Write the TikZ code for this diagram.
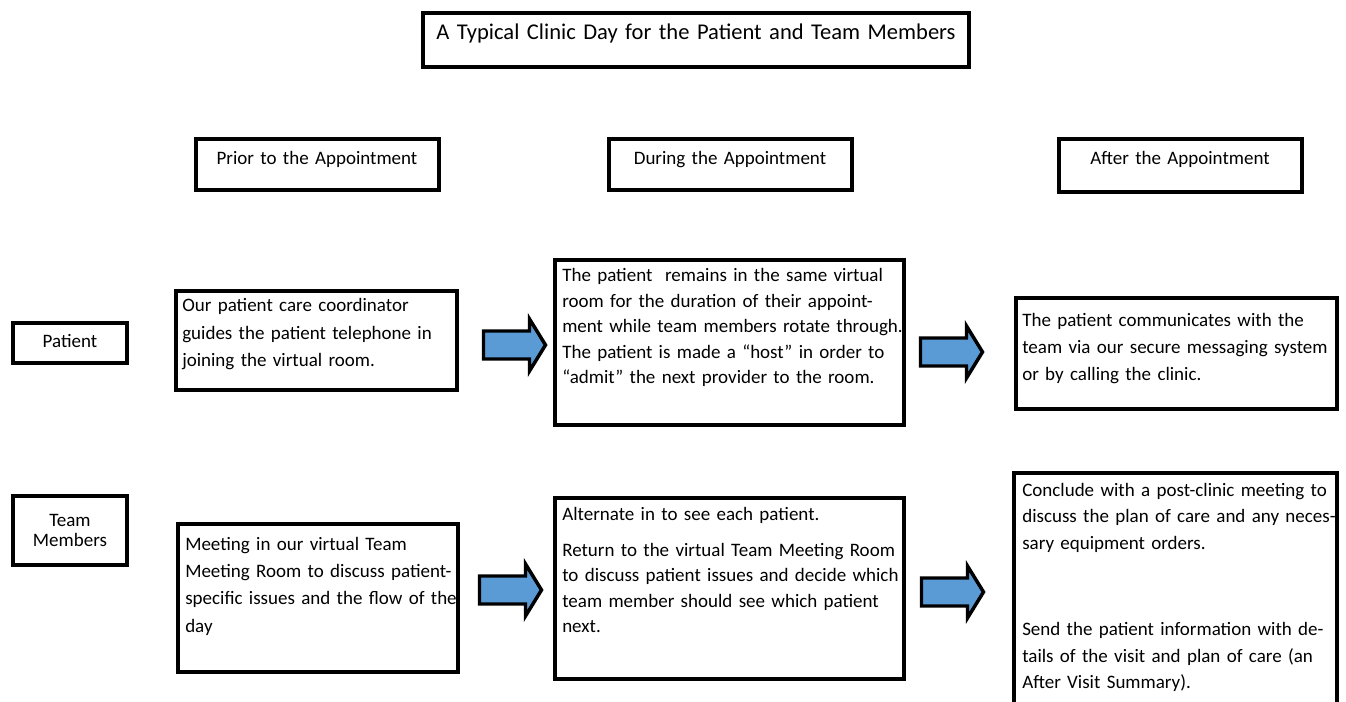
\documentclass[tikz,border=0pt]{standalone}
\usepackage{fontspec}
\setmainfont{Carlito}
\usetikzlibrary{fit}
\definecolor{arrowblue}{HTML}{5B9BD5}
\begin{document}
\begin{tikzpicture}[x=0.75pt,y=-0.75pt,
  box/.style={draw=black, line width=2.6pt, inner sep=0pt, fill=white},
  txt/.style={anchor=base west, inner sep=0pt, align=left, text width=300pt},
  ctr/.style={anchor=base, inner sep=0pt, align=center, text width=200pt, font=\fontsize{14.25}{15.6}\selectfont},
  blockarrow/.pic={\draw[line width=2.6pt, fill=arrowblue, line join=miter, miter limit=10] (0,-14) -- (46,-14) -- (46,-26) -- (62,0) -- (46,26) -- (46,14) -- (0,14) -- cycle;}
]
\useasboundingbox (0,0) rectangle (1346,702);

% title and column headers
\node[box, fit={(423,13) (969,67)}] (title) {};
\node[ctr, text width=420pt, font=\fontsize{16.9}{18}\selectfont] (titletext) at (696,40) {A Typical Clinic Day for the Patient and Team Members};

\node[box, fit={(196,139) (439,190)}] (h1) {};
\node[ctr] (h1text) at (317,165) {Prior to the Appointment};
\node[box, fit={(609,139) (852,190)}] (h2) {};
\node[ctr] (h2text) at (730,165) {During the Appointment};
\node[box, fit={(1059,139) (1302,192)}] (h3) {};
\node[ctr] (h3text) at (1180,165) {After the Appointment};

% row labels
\node[box, fit={(13,323) (127,363)}] (lp) {};
\node[ctr] (lptext) at (70,348) {Patient};
\node[box, fit={(13,496) (127,565)}] (lt) {};
\node[ctr, text width=80pt, font=\fontsize{14.25}{15.6}\selectfont] (lttext) at (70,526) {Team\\Members};

% patient row
\node[box, fit={(176,291) (457,390)}] (p1) {};
\node[txt, font=\fontsize{14.25}{20.6}\selectfont] (p1text) at (182,312) {Our patient care coordinator\\guides the patient telephone in\\joining the virtual room.};

\node[box, fit={(555,260) (904,425)}] (p2) {};
\node[txt, font=\fontsize{14.25}{19.1}\selectfont] (p2text) at (562,282) {The patient\ \ remains in the same virtual\\room for the duration of their appoint-\\ment while team members rotate through.\\The patient is made a “host” in order to\\“admit” the next provider to the room.};

\node[box, fit={(1016,298) (1337,409)}] (p3) {};
\node[txt, font=\fontsize{14.25}{19.9}\selectfont] (p3text) at (1022,327) {The patient communicates with the\\team via our secure messaging system\\or by calling the clinic.};

% team row
\node[box, fit={(178,524) (458,672)}] (t1) {};
\node[txt, font=\fontsize{14.25}{20.6}\selectfont] (t1text) at (185,550) {Meeting in our virtual Team\\Meeting Room to discuss patient-\\specific issues and the flow of the\\day};

\node[box, fit={(555,498) (904,679)}] (t2) {};
\node[txt, font=\fontsize{14.25}{19.1}\selectfont] (t2text) at (562,520) {Alternate in to see each patient.\\[8pt]Return to the virtual Team Meeting Room\\to discuss patient issues and decide which\\team member should see which patient\\next.};

\node[box, fit={(1014,473) (1337,712)}] (t3) {};
\node[txt, font=\fontsize{14.25}{19.9}\selectfont] (t3text) at (1022,496) {Conclude with a post-clinic meeting to\\discuss the plan of care and any neces-\\sary equipment orders.\\[45pt]Send the patient information with de-\\tails of the visit and plan of care (an\\After Visit Summary).};

% block arrows between the boxes
\coordinate (a1) at (483.5,345);
\coordinate (a2) at (920.5,352);
\coordinate (a3) at (479.5,590);
\coordinate (a4) at (921.5,592);
\pic at (a1) {blockarrow};
\pic at (a2) {blockarrow};
\pic at (a3) {blockarrow};
\pic at (a4) {blockarrow};
\end{tikzpicture}
\end{document}
